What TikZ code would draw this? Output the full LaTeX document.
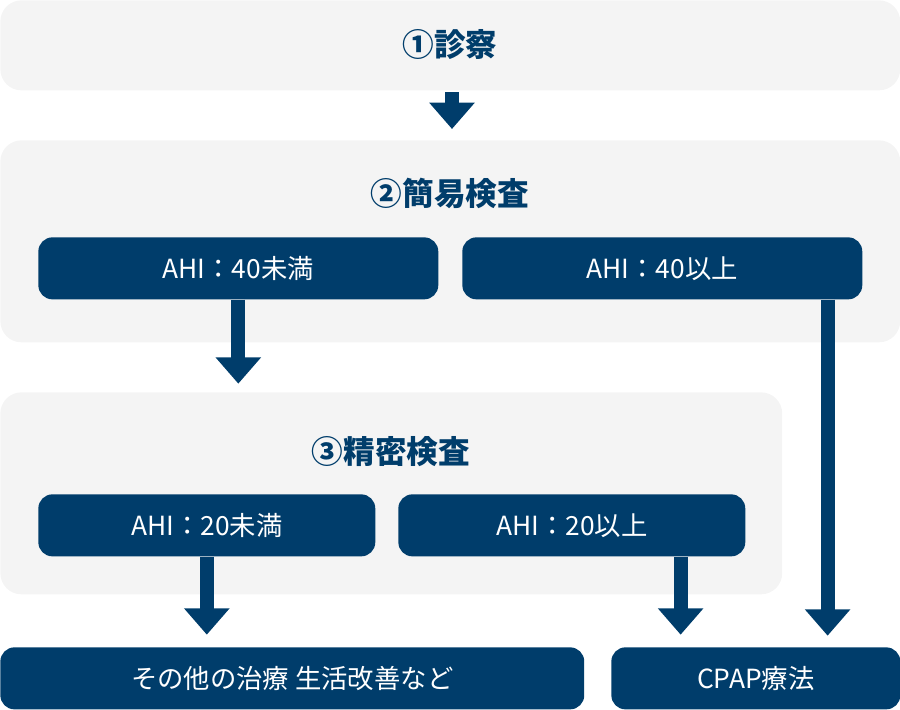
\documentclass[tikz,border=0pt]{standalone}
\usepackage{fontspec}
\setmainfont{Noto Sans CJK JP}
\usetikzlibrary{arrows.meta, positioning, calc}
\definecolor{navy}{RGB}{0,61,107}
\definecolor{panel}{RGB}{244,244,244}
\tikzset{
    stage/.style={rectangle, rounded corners=12pt, fill=panel, draw=none, anchor=north west},
    title/.style={font=\bfseries\fontsize{18}{20}\selectfont, text=navy},
    result/.style={rectangle, rounded corners=8pt, fill=navy, text=white, anchor=north west, minimum height=1.24cm, font=\fontsize{15}{17}\selectfont},
    flow/.style={-{Triangle[length=15pt, width=25pt]}, line width=8pt, draw=navy}
}
\begin{document}
\begin{tikzpicture}[x=0.02cm, y=-0.02cm]
    \useasboundingbox (0,0) rectangle (900,710);
    % Stages
    \node[stage, minimum width=18cm, minimum height=1.8cm] (visit) at (0,0) {};
    \node[stage, minimum width=18cm, minimum height=4.04cm] (simple) at (0,140) {};
    \node[stage, minimum width=15.64cm, minimum height=4.04cm] (detail) at (0,392) {};
    \node[title] at (450,45) {①診察};
    \node[title] at (450,193) {②簡易検査};
    \node[title] at (391,452) {③精密検査};
    % Results
    \node[result, minimum width=8cm] (low40) at (38,237) {AHI：40未満};
    \node[result, minimum width=8cm] (high40) at (462,237) {AHI：40以上};
    \node[result, minimum width=6.74cm] (low20) at (38,494) {AHI：20未満};
    \node[result, minimum width=6.94cm] (high20) at (398,494) {AHI：20以上};
    \node[result, minimum width=11.68cm] (other) at (0,647) {その他の治療\ 生活改善など};
    \node[result, minimum width=5.78cm] (cpap) at (611,647) {CPAP療法};
    % Flows
    \coordinate (a1) at (452,92);
    \coordinate (a2) at (452,129);
    \draw[flow] (a1) -- (a2);
    \draw[flow] (low40.south) -- ++(0,84);
    \draw[flow] (low20.south) -- ++(0,78);
    \draw[flow] ($(high20.south east)+(-65,0)$) -- ++(0,78);
    \draw[flow] ($(high40.south east)+(-35,0)$) -- ++(0,336);
\end{tikzpicture}
\end{document}
